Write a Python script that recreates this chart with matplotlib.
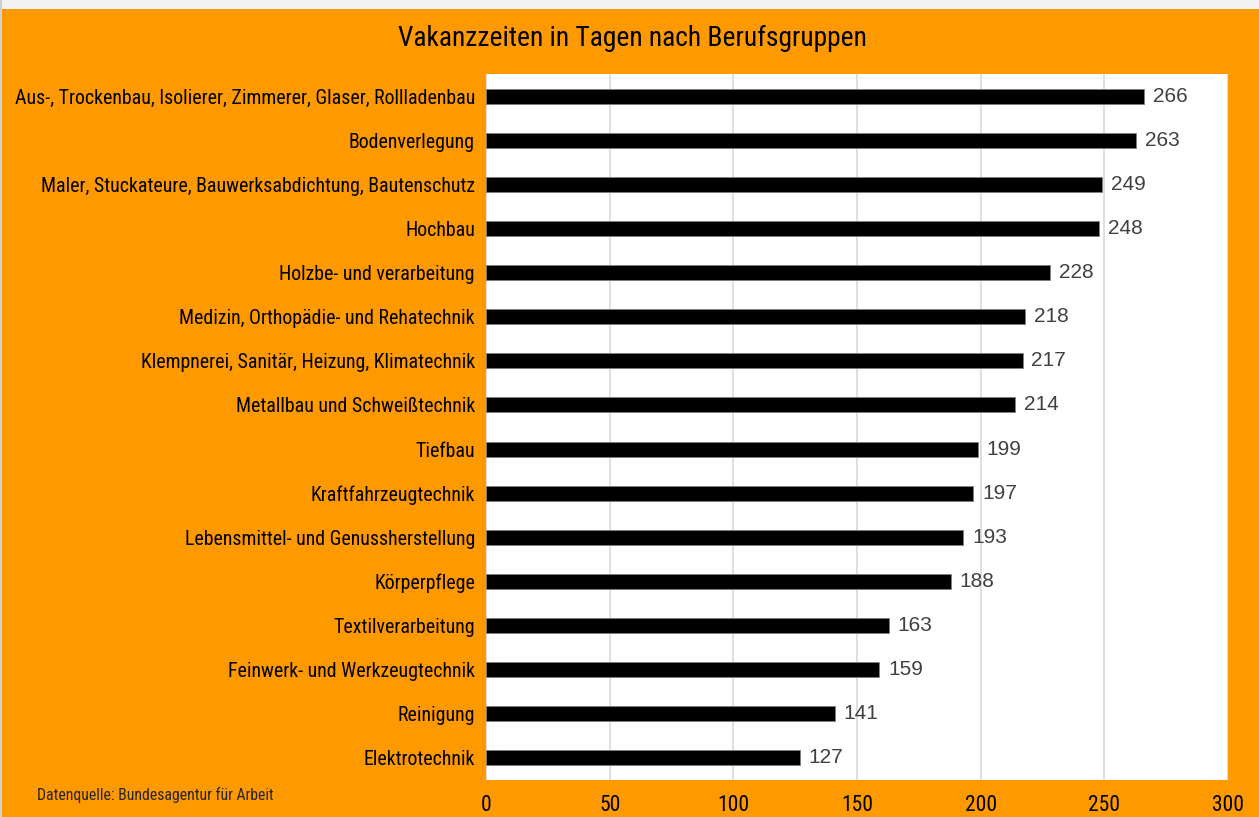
import matplotlib.pyplot as plt
from matplotlib.patches import Rectangle

categories = [
    "Aus-, Trockenbau, Isolierer, Zimmerer, Glaser, Rollladenbau",
    "Bodenverlegung",
    "Maler, Stuckateure, Bauwerksabdichtung, Bautenschutz",
    "Hochbau",
    "Holzbe- und verarbeitung",
    "Medizin, Orthopädie- und Rehatechnik",
    "Klempnerei, Sanitär, Heizung, Klimatechnik",
    "Metallbau und Schweißtechnik",
    "Tiefbau",
    "Kraftfahrzeugtechnik",
    "Lebensmittel- und Genussherstellung",
    "Körperpflege",
    "Textilverarbeitung",
    "Feinwerk- und Werkzeugtechnik",
    "Reinigung",
    "Elektrotechnik",
]
days = [266, 263, 249, 248, 228, 218, 217, 214, 199, 197, 193, 188, 163, 159, 141, 127]
xticks = [0, 50, 100, 150, 200, 250, 300]

orange = "#FF9900"
# condensed font if one is installed, otherwise Arial-like
narrow = ["Roboto Condensed", "Liberation Sans Narrow", "Arial Narrow", "Liberation Sans", "DejaVu Sans"]

fig = plt.figure(figsize=(12.59, 8.17), dpi=100, facecolor=orange)
# light border strip at the top / left like the screenshot
fig.patches.append(Rectangle((0, 1 - 9 / 817), 1, 9 / 817, transform=fig.transFigure,
                             facecolor="#F2F2F2", edgecolor="none", zorder=0))
fig.patches.append(Rectangle((0, 0), 2 / 1259, 1, transform=fig.transFigure,
                             facecolor="#D0D0D0", edgecolor="none", zorder=0))

ax = fig.add_axes([486 / 1259, 37 / 817, 742 / 1259, 706 / 817])
ax.set_facecolor("white")

ypos = list(range(len(categories)))[::-1]
ax.barh(ypos, days, height=0.34, color="black", edgecolor="#7F7F7F", linewidth=0.6, zorder=3)

for y, v in zip(ypos, days):
    ax.text(v + 3.5, y, str(v), va="center", ha="left", fontsize=15,
            family=["Liberation Sans", "DejaVu Sans"], color="#404040", zorder=4)

ax.set_xlim(0, 300)
ax.set_ylim(-0.5, len(categories) - 0.5)
ax.set_xticks(xticks)
ax.set_xticklabels([str(t) for t in xticks], fontsize=15.5, family=narrow, color="black")
ax.set_yticks(ypos)
ax.set_yticklabels(categories, fontsize=14.3, family=narrow, color="black")
ax.tick_params(length=0, pad=8)
ax.tick_params(axis="x", pad=11)
ax.grid(axis="x", color="#D9D9D9", linewidth=1.2, zorder=0)
for s in ax.spines.values():
    s.set_visible(False)

fig.text(632 / 1259, 1 - 38 / 817, "Vakanzzeiten in Tagen nach Berufsgruppen",
         fontsize=19.8, family=narrow, ha="center", va="center", color="black")
fig.text(37 / 1259, 1 - 795 / 817, "Datenquelle: Bundesagentur für Arbeit",
         fontsize=11.3, family=narrow, ha="left", va="center", color="#262626")

fig.savefig("out.png", dpi=100, facecolor=orange)
